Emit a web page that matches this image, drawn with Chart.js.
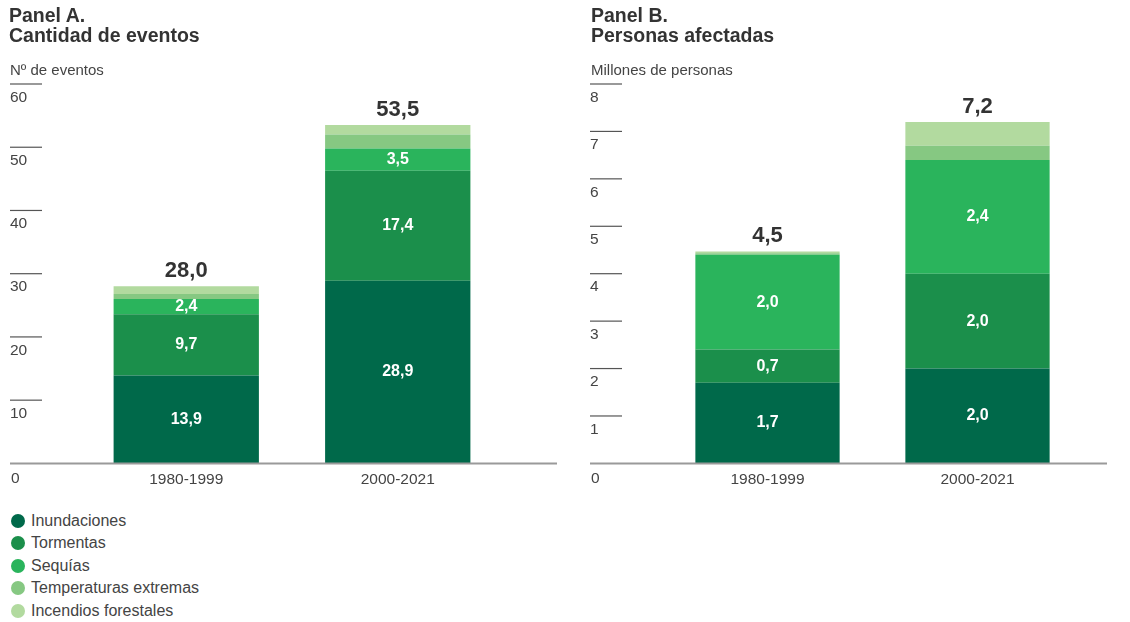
<!DOCTYPE html>
<html lang="es">
<head>
<meta charset="utf-8">
<script src="https://cdn.jsdelivr.net/npm/chart.js@4/dist/chart.umd.min.js"></script>
<style>
  html, body { margin: 0; padding: 0; background: #fff; }
  body { width: 1130px; height: 622px; position: relative; overflow: hidden;
         font-family: "Liberation Sans", Arial, sans-serif; color: #333; }
  .panel { position: absolute; top: 0; height: 500px; }
  .panel canvas { position: absolute; left: 0; top: 0; }
  .title { position: absolute; top: 5px; font-weight: bold; font-size: 19.5px; line-height: 20px; color: #333; }
  .unit { position: absolute; top: 61px; font-size: 15px; color: #444; }
  .legend { position: absolute; left: 11px; top: 510px; font-size: 16px; color: #444; }
  .legend div { height: 22.4px; line-height: 22px; white-space: nowrap; }
  .legend span { display: inline-block; width: 14px; height: 14px; border-radius: 50%;
                 vertical-align: -2px; margin-right: 6px; }
</style>
</head>
<body>
<div class="panel" id="panelA" style="left:0;width:570px">
  <canvas id="chartA"></canvas>
  <div class="title" style="left:9px">Panel A.<br>Cantidad de eventos</div>
  <div class="unit" style="left:10px">Nº de eventos</div>
</div>
<div class="panel" id="panelB" style="left:580px;width:550px">
  <canvas id="chartB"></canvas>
  <div class="title" style="left:11px">Panel B.<br>Personas afectadas</div>
  <div class="unit" style="left:11px">Millones de personas</div>
</div>
<div class="legend" id="legend"></div>

<script>
const PERIODS = ['1980-1999', '2000-2021'];
const SERIES = ['Inundaciones', 'Tormentas', 'Sequías', 'Temperaturas extremas', 'Incendios forestales'];
const COLORS = ['#00694a', '#1b8f4b', '#2ab45c', '#86c882', '#b2da9f'];
const LABELLED = [true, true, true, false, false];

// Panel A: number of events
const eventosInundaciones = [13.9, 28.9];
const eventosTormentas    = [9.7, 17.4];
const eventosSequias      = [2.4, 3.5];
const eventosTemperaturas = [0.8, 2.2];
const eventosIncendios    = [1.2, 1.5];
const eventosTotales      = ['28,0', '53,5'];
const eventosTicks        = [0, 10, 20, 30, 40, 50, 60];

// Panel B: people affected (millions)
const personasInundaciones = [1.7, 2.0];
const personasTormentas    = [0.7, 2.0];
const personasSequias      = [2.0, 2.4];
const personasTemperaturas = [0.03, 0.3];
const personasIncendios    = [0.04, 0.5];
const personasTotales      = ['4,5', '7,2'];
const personasTicks        = [0, 1, 2, 3, 4, 5, 6, 7, 8];

const FONT = '"Liberation Sans", Arial, sans-serif';

function fmt(v) { return v.toFixed(1).replace('.', ','); }

const panelDecor = {
  id: 'panelDecor',
  afterDraw(chart, args, o) {
    const { ctx, scales: { y } } = chart;
    ctx.save();
    // y ticks: short line with the label under it
    ctx.font = '15.5px ' + FONT;
    ctx.fillStyle = '#444';
    ctx.textAlign = 'left';
    ctx.textBaseline = 'middle';
    for (const v of o.ticks) {
      const py = y.getPixelForValue(v);
      if (v === 0) { ctx.fillText('0', o.left + 1, py + 15); continue; }
      ctx.strokeStyle = '#555';
      ctx.lineWidth = 1.2;
      ctx.beginPath();
      ctx.moveTo(o.left, py);
      ctx.lineTo(o.left + 32, py);
      ctx.stroke();
      ctx.fillText(String(v), o.left, py + 13.5);
    }
    // baseline
    const y0 = y.getPixelForValue(0);
    ctx.strokeStyle = '#9a9a9a';
    ctx.lineWidth = 2;
    ctx.beginPath();
    ctx.moveTo(o.left, y0);
    ctx.lineTo(o.right, y0);
    ctx.stroke();
    // values inside segments
    ctx.textAlign = 'center';
    ctx.font = 'bold 16px ' + FONT;
    ctx.fillStyle = '#fff';
    chart.data.datasets.forEach((ds, di) => {
      if (!LABELLED[di]) return;
      chart.getDatasetMeta(di).data.forEach((bar, i) => {
        ctx.fillText(fmt(ds.data[i]), bar.x, (bar.y + bar.base) / 2);
      });
    });
    // totals on top
    const last = chart.getDatasetMeta(chart.data.datasets.length - 1);
    ctx.font = 'bold 22px ' + FONT;
    ctx.fillStyle = '#333';
    ctx.textBaseline = 'alphabetic';
    last.data.forEach((bar, i) => {
      ctx.fillText(o.totals[i], bar.x, bar.y - 9);
    });
    ctx.restore();
  }
};

function makeChart(id, width, series, yMax, decor, padding) {
  const canvas = document.getElementById(id);
  canvas.width = width;
  canvas.height = 500;
  canvas.style.width = width + 'px';
  canvas.style.height = '500px';
  return new Chart(canvas, {
    type: 'bar',
    data: {
      labels: PERIODS,
      datasets: series.map((d, i) => ({
        label: SERIES[i],
        data: d,
        backgroundColor: COLORS[i],
        borderWidth: 0,
        barPercentage: 0.687,
        categoryPercentage: 1,
      })),
    },
    options: {
      responsive: false,
      animation: false,
      events: [],
      layout: { padding },
      plugins: { legend: { display: false }, tooltip: { enabled: false }, panelDecor: decor },
      scales: {
        x: {
          stacked: true,
          grid: { display: false, drawTicks: false },
          border: { display: false },
          ticks: { color: '#444', font: { family: FONT, size: 15.5 }, padding: 7 },
        },
        y: { stacked: true, display: false, min: 0, max: yMax },
      },
    },
    plugins: [panelDecor],
  });
}

makeChart('chartA', 570,
  [eventosInundaciones, eventosTormentas, eventosSequias, eventosTemperaturas, eventosIncendios],
  60, { ticks: eventosTicks, totals: eventosTotales, left: 10, right: 557 },
  { left: 80.5, right: 66.5, top: 84, bottom: 4 });

makeChart('chartB', 550,
  [personasInundaciones, personasTormentas, personasSequias, personasTemperaturas, personasIncendios],
  8, { ticks: personasTicks, totals: personasTotales, left: 10, right: 527 },
  { left: 82.5, right: 47.5, top: 84, bottom: 4 });

const legend = document.getElementById('legend');
SERIES.forEach((name, i) => {
  const row = document.createElement('div');
  row.innerHTML = `<span style="background:${COLORS[i]}"></span>${name}`;
  legend.appendChild(row);
});
</script>
</body>
</html>
